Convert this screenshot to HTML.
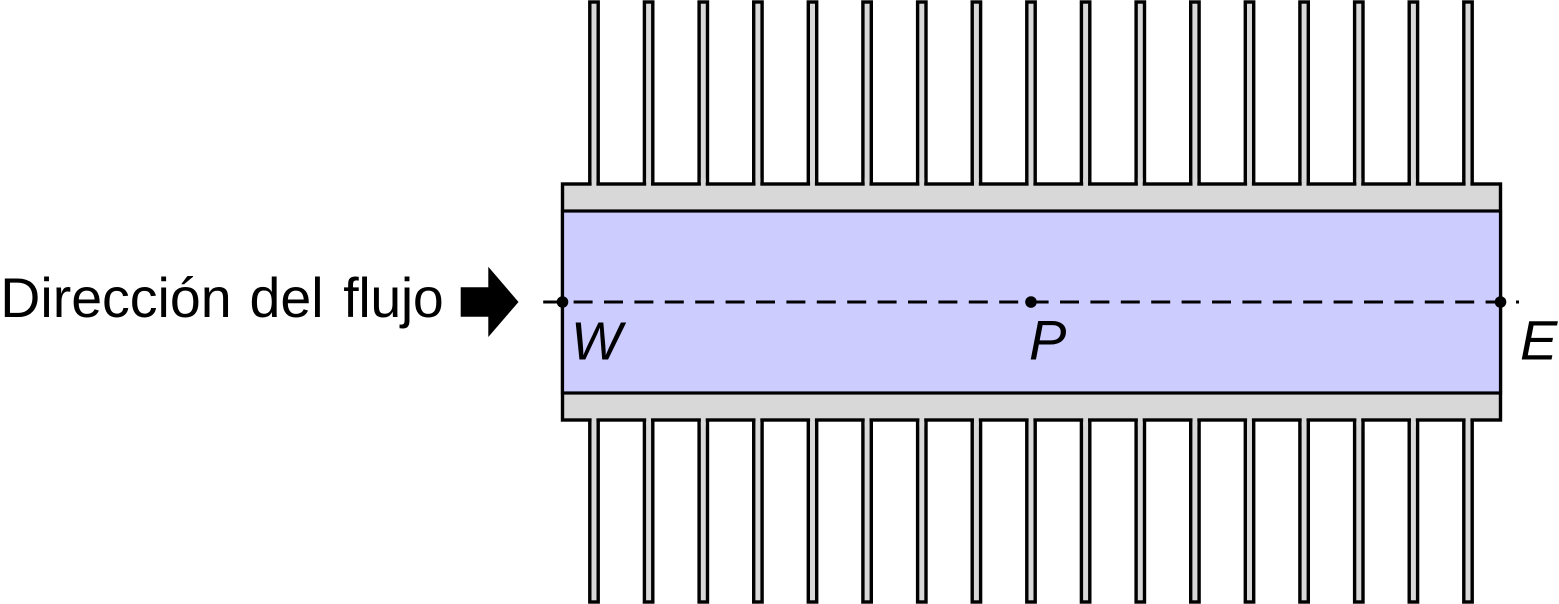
<!DOCTYPE html>
<html>
<head>
<meta charset="utf-8">
<style>
html,body{margin:0;padding:0;background:#fff;width:1559px;height:604px;overflow:hidden}
svg{display:block}
text{font-family:"Liberation Sans",Arial,sans-serif;fill:#000}
</style>
</head>
<body>
<svg width="1559" height="604" viewBox="0 0 1559 604" xmlns="http://www.w3.org/2000/svg">
<defs>
<g id="fin"><rect x="-4.2" y="2" width="8.4" height="183" fill="#d8d8d8" stroke="#000" stroke-width="3.4"/></g>
<g id="finb"><rect x="-4.2" y="419" width="8.4" height="183" fill="#d8d8d8" stroke="#000" stroke-width="3.4"/></g>
<g id="pair"><use href="#fin"/><use href="#finb"/></g>
</defs>
<use href="#pair" x="594"/>
<use href="#pair" x="648.6"/>
<use href="#pair" x="703.3"/>
<use href="#pair" x="757.9"/>
<use href="#pair" x="812.5"/>
<use href="#pair" x="867.1"/>
<use href="#pair" x="921.8"/>
<use href="#pair" x="976.4"/>
<use href="#pair" x="1031"/>
<use href="#pair" x="1085.6"/>
<use href="#pair" x="1140.3"/>
<use href="#pair" x="1194.9"/>
<use href="#pair" x="1249.5"/>
<use href="#pair" x="1304.1"/>
<use href="#pair" x="1358.8"/>
<use href="#pair" x="1413.4"/>
<use href="#pair" x="1468"/>
<rect x="562.5" y="184" width="938" height="236" fill="#d8d8d8" stroke="#000" stroke-width="3.4"/>
<g fill="#d8d8d8">
<rect x="591.6" y="178" width="4.8" height="8"/><rect x="646.2" y="178" width="4.8" height="8"/><rect x="700.9" y="178" width="4.8" height="8"/><rect x="755.5" y="178" width="4.8" height="8"/><rect x="810.1" y="178" width="4.8" height="8"/><rect x="864.7" y="178" width="4.8" height="8"/><rect x="919.4" y="178" width="4.8" height="8"/><rect x="974" y="178" width="4.8" height="8"/><rect x="1028.6" y="178" width="4.8" height="8"/><rect x="1083.2" y="178" width="4.8" height="8"/><rect x="1137.9" y="178" width="4.8" height="8"/><rect x="1192.5" y="178" width="4.8" height="8"/><rect x="1247.1" y="178" width="4.8" height="8"/><rect x="1301.7" y="178" width="4.8" height="8"/><rect x="1356.4" y="178" width="4.8" height="8"/><rect x="1411" y="178" width="4.8" height="8"/><rect x="1465.6" y="178" width="4.8" height="8"/>
<rect x="591.6" y="418" width="4.8" height="8"/><rect x="646.2" y="418" width="4.8" height="8"/><rect x="700.9" y="418" width="4.8" height="8"/><rect x="755.5" y="418" width="4.8" height="8"/><rect x="810.1" y="418" width="4.8" height="8"/><rect x="864.7" y="418" width="4.8" height="8"/><rect x="919.4" y="418" width="4.8" height="8"/><rect x="974" y="418" width="4.8" height="8"/><rect x="1028.6" y="418" width="4.8" height="8"/><rect x="1083.2" y="418" width="4.8" height="8"/><rect x="1137.9" y="418" width="4.8" height="8"/><rect x="1192.5" y="418" width="4.8" height="8"/><rect x="1247.1" y="418" width="4.8" height="8"/><rect x="1301.7" y="418" width="4.8" height="8"/><rect x="1356.4" y="418" width="4.8" height="8"/><rect x="1411" y="418" width="4.8" height="8"/><rect x="1465.6" y="418" width="4.8" height="8"/>
</g>
<rect x="562.5" y="211" width="938" height="182" fill="#ccccff" stroke="#000" stroke-width="3.2"/>
<line x1="543.2" y1="302" x2="1519" y2="302" stroke="#000" stroke-width="3" stroke-dasharray="19 11.4"/>
<circle cx="562.5" cy="302" r="5.8" fill="#000"/>
<circle cx="1031" cy="302" r="5.8" fill="#000"/>
<circle cx="1500.5" cy="302" r="5.8" fill="#000"/>
<polygon points="460.7,287.3 488.3,287.3 488.3,266.7 518.5,302 488.3,337 488.3,316.7 460.7,316.7" fill="#000"/>
<text x="0.3" y="317" font-size="55.5">Dirección</text>
<text x="249.5" y="317" font-size="55.5">del</text>
<text x="343.3" y="317" font-size="55.5" textLength="100.5" lengthAdjust="spacing">flujo</text>
<text x="571" y="359.5" font-size="54" font-style="italic">W</text>
<text x="1029" y="359.5" font-size="56" font-style="italic">P</text>
<text x="1520" y="359.5" font-size="56" font-style="italic">E</text>
</svg>
</body>
</html>
